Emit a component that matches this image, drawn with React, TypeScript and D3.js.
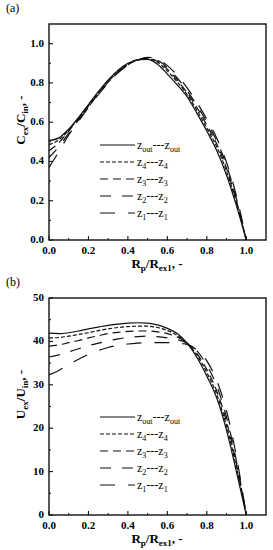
import React from "react";
import * as d3 from "d3";

// radial positions
const xs = [0, 0.05, 0.1, 0.15, 0.2, 0.25, 0.3, 0.35, 0.4, 0.45, 0.5, 0.55, 0.6, 0.65, 0.7, 0.75, 0.8, 0.85, 0.9, 0.95, 1.0];

// (a) concentration ratio
const cOut = [0.506, 0.52, 0.565, 0.625, 0.69, 0.755, 0.815, 0.865, 0.9, 0.918, 0.92, 0.895, 0.845, 0.79, 0.73, 0.645, 0.555, 0.456, 0.33, 0.175, 0];
const cZ4 = [0.485, 0.51, 0.56, 0.62, 0.685, 0.75, 0.81, 0.86, 0.895, 0.917, 0.922, 0.905, 0.86, 0.805, 0.74, 0.66, 0.57, 0.475, 0.35, 0.19, 0];
const cZ3 = [0.455, 0.495, 0.555, 0.617, 0.682, 0.747, 0.807, 0.857, 0.893, 0.916, 0.925, 0.91, 0.87, 0.815, 0.75, 0.675, 0.585, 0.49, 0.365, 0.2, 0];
const cZ2 = [0.42, 0.475, 0.545, 0.612, 0.678, 0.744, 0.804, 0.855, 0.892, 0.916, 0.927, 0.915, 0.878, 0.825, 0.76, 0.685, 0.6, 0.505, 0.38, 0.21, 0];
const cZ1 = [0.37, 0.45, 0.535, 0.605, 0.675, 0.74, 0.8, 0.852, 0.89, 0.916, 0.93, 0.92, 0.888, 0.838, 0.775, 0.7, 0.615, 0.52, 0.395, 0.225, 0];

// (b) velocity ratio
const uOut = [41.9, 41.8, 42.0, 42.4, 42.9, 43.3, 43.7, 44.0, 44.2, 44.3, 44.2, 43.8, 43.0, 41.8, 39.6, 36.3, 32.0, 27.0, 19.5, 10.0, 0];
const uZ4 = [40.8, 40.9, 41.2, 41.6, 42.0, 42.5, 42.9, 43.2, 43.4, 43.5, 43.5, 43.2, 42.5, 41.4, 39.6, 36.8, 32.8, 27.8, 20.5, 11.0, 0];
const uZ3 = [38.9, 39.2, 39.7, 40.2, 40.8, 41.3, 41.8, 42.1, 42.3, 42.4, 42.4, 42.2, 41.8, 41.0, 39.6, 37.2, 33.5, 28.6, 21.5, 11.8, 0];
const uZ2 = [36.4, 36.9, 37.6, 38.3, 39.0, 39.6, 40.1, 40.6, 40.9, 41.1, 41.2, 41.1, 40.8, 40.4, 39.6, 37.8, 34.5, 29.8, 22.5, 12.5, 0];
const uZ1 = [32.3, 33.3, 34.7, 35.9, 37.0, 37.9, 38.6, 39.1, 39.4, 39.6, 39.7, 39.7, 39.7, 39.6, 39.3, 38.0, 35.5, 31.0, 24.0, 13.5, 0];

const seriesNames = ["out", "4", "3", "2", "1"];
const dashes = ["none", "4,2", "8,5", "11,11", "15,13"];

const xTicks = [0, 0.2, 0.4, 0.6, 0.8, 1.0];
const cTicks = [0, 0.2, 0.4, 0.6, 0.8, 1.0];
const uTicks = [0, 10, 20, 30, 40, 50];

const FONT = "'Liberation Serif', 'Times New Roman', serif";

type PanelProps = {
  top: number;
  bottom: number;
  yMax: number;
  yTicks: number[];
  yMinorStep: number;
  fmt: (v: number) => string;
  series: number[][];
  label: string;
  ySym: string;
  legendTop: number;
};

const left = 49;
const right = 266;

const Panel = ({ top, bottom, yMax, yTicks, yMinorStep, fmt, series, label, ySym, legendTop }: PanelProps) => {
  const x = d3.scaleLinear().domain([0, 1.1]).range([left, right]);
  const y = d3.scaleLinear().domain([0, yMax]).range([bottom, top]);
  const line = d3
    .line<number>()
    .x((_, i) => x(xs[i]))
    .y((d) => y(d))
    .curve(d3.curveMonotoneX);

  const xMinor = d3.range(0.1, 1.1, 0.2);
  const yMinor = d3.range(yMinorStep, yMax, yMinorStep * 2);
  const midY = (top + bottom) / 2 - 12;

  return (
    <g fontFamily={FONT}>
      <text x={6} y={top - 12} fontSize={12}>{label}</text>
      {series.map((s, i) => (
        <path key={i} d={line(s) || ""} fill="none" stroke="#111" strokeWidth={1.2} strokeDasharray={dashes[i]} />
      ))}
      <rect x={left} y={top} width={right - left} height={bottom - top} fill="none" stroke="#111" strokeWidth={1.4} />
      {xTicks.map((t) => (
        <g key={t}>
          <line x1={x(t)} x2={x(t)} y1={bottom} y2={bottom - 4} stroke="#111" strokeWidth={1.1} />
          <text x={x(t)} y={bottom + 14} textAnchor="middle" fontSize={11} fontWeight="bold">{t.toFixed(1)}</text>
        </g>
      ))}
      {xMinor.map((t) => (
        <line key={t} x1={x(t)} x2={x(t)} y1={bottom} y2={bottom - 2} stroke="#111" strokeWidth={1} />
      ))}
      {yTicks.map((t) => (
        <g key={t}>
          <line x1={left} x2={left + 4} y1={y(t)} y2={y(t)} stroke="#111" strokeWidth={1.1} />
          <text x={left - 5} y={y(t) + 3} textAnchor="end" fontSize={11} fontWeight="bold">{fmt(t)}</text>
        </g>
      ))}
      {yMinor.map((t) => (
        <line key={t} x1={left} x2={left + 2} y1={y(t)} y2={y(t)} stroke="#111" strokeWidth={1} />
      ))}
      <text x={157} y={bottom + 28} textAnchor="middle" fontSize={13} fontWeight="bold">
        R<tspan dy={3} fontSize={9}>p</tspan>
        <tspan dy={-3}>/R</tspan>
        <tspan dy={3} fontSize={9}>ex1</tspan>
        <tspan dy={-3}>, -</tspan>
      </text>
      <text transform={`translate(25,${midY}) rotate(-90)`} textAnchor="middle" fontSize={13} fontWeight="bold">
        {ySym}<tspan dy={3} fontSize={9}>ex</tspan>
        <tspan dy={-3}>/{ySym}</tspan>
        <tspan dy={3} fontSize={9}>in</tspan>
        <tspan dy={-3}>, -</tspan>
      </text>
      {seriesNames.map((n, i) => {
        const ly = legendTop + i * 17;
        return (
          <g key={n}>
            <line x1={100} x2={135} y1={ly} y2={ly} stroke="#111" strokeWidth={1.2} strokeDasharray={dashes[i]} />
            <text x={137} y={ly + 4} fontSize={12}>
              z<tspan dy={3} fontSize={8}>{n}</tspan>
              <tspan dy={-3}>---z</tspan>
              <tspan dy={3} fontSize={8}>{n}</tspan>
            </text>
          </g>
        );
      })}
    </g>
  );
};

export default function App() {
  return (
    <svg width={273} height={550} style={{ position: "absolute", left: 0, top: 0, background: "#fff" }}>
      <Panel
        top={24}
        bottom={240}
        yMax={1.1}
        yTicks={cTicks}
        yMinorStep={0.1}
        fmt={(v) => v.toFixed(1)}
        series={[cOut, cZ4, cZ3, cZ2, cZ1]}
        label="(a)"
        ySym="C"
        legendTop={145}
      />
      <Panel
        top={298}
        bottom={515}
        yMax={50}
        yTicks={uTicks}
        yMinorStep={5}
        fmt={(v) => String(v)}
        series={[uOut, uZ4, uZ3, uZ2, uZ1]}
        label="(b)"
        ySym="U"
        legendTop={417}
      />
    </svg>
  );
}
